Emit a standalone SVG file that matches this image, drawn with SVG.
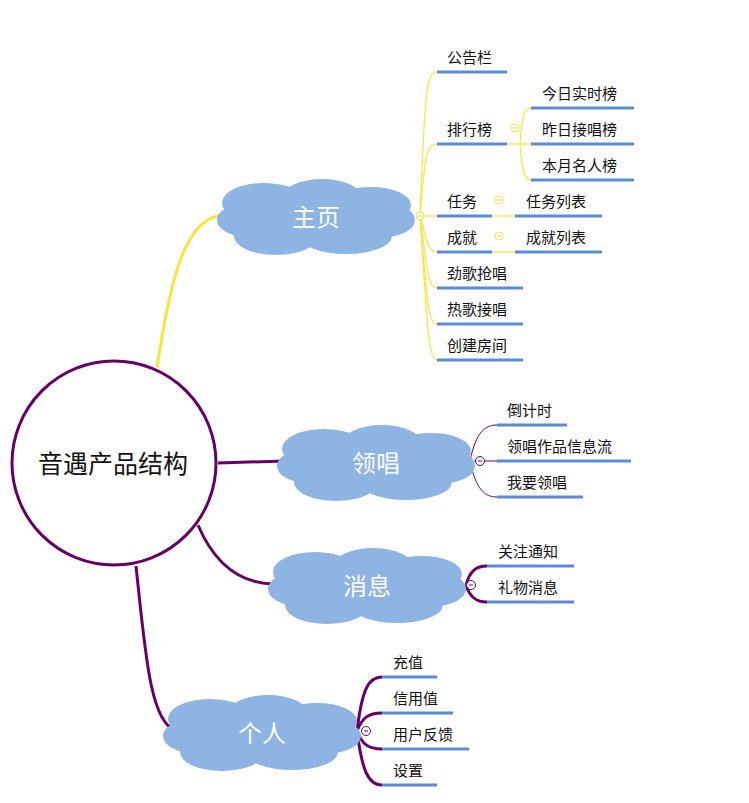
<svg xmlns="http://www.w3.org/2000/svg" width="749" height="803" viewBox="0 0 749 803">
<style>
text{font-family:"Microsoft YaHei","Noto Sans CJK SC",sans-serif;font-size:15px;fill:#111}
.ct{font-size:24px;fill:#fff;text-anchor:middle}
.ul{stroke:#5B8BD6;stroke-width:3;fill:none}
.y{stroke:#FFE23A;fill:none;stroke-width:1.2}
.p{stroke:#660066;fill:none}
.tg{fill:#fff;stroke-width:1}
</style>
<defs>
<g id="cloud" fill="#8EB4E3">
<ellipse cx="-68" cy="3" rx="31" ry="17"/>
<ellipse cx="68" cy="3" rx="31" ry="17"/>
<ellipse cx="-52" cy="-14" rx="42" ry="20"/>
<ellipse cx="6" cy="-19" rx="40" ry="19"/>
<ellipse cx="55" cy="-12" rx="40" ry="18"/>
<ellipse cx="-40" cy="19" rx="42" ry="19"/>
<ellipse cx="30" cy="19" rx="46" ry="18"/>
<ellipse cx="0" cy="0" rx="82" ry="28"/>
</g>
</defs>
<g id="connectors">
<path class="y" d="M157,368 C170,280 185,215 225,215" style="stroke-width:3"/>
<path class="p" d="M218,463 L285,461" stroke-width="3"/>
<path class="p" d="M198,525 C215,565 240,584 275,584" stroke-width="3"/>
<path class="p" d="M136,566 C145,650 150,722 175,730" stroke-width="3"/>
<path class="y" d="M415,216 L420,216"/>
<path class="y" d="M420,216 C425,100 425,72 437,72"/>
<path class="y" d="M420,216 C425,160 425,144 437,144"/>
<path class="y" d="M420,216 L437,216"/>
<path class="y" d="M420,216 C427,240 428,252 437,252"/>
<path class="y" d="M420,216 C427,270 428,288 437,288"/>
<path class="y" d="M420,216 C427,300 428,324 437,324"/>
<path class="y" d="M420,216 C427,320 428,360 437,360"/>
<path class="y" d="M507,144 L531,144"/>
<path class="y" d="M520,144 C522,115 524,108 531,108"/>
<path class="y" d="M520,144 C522,170 524,180 531,180"/>
<path class="y" d="M492,216 L515,216"/>
<path class="y" d="M492,252 L515,252"/>
<path class="p" d="M474,461 L497,461" stroke-width="1"/>
<path class="p" d="M470,461 C476,432 485,425 497,425" stroke-width="1"/>
<path class="p" d="M470,461 C476,490 485,497 497,497" stroke-width="1"/>
<path class="p" d="M466,585 C470,570 477,566 487,566" stroke-width="3"/>
<path class="p" d="M466,585 C470,598 477,602 487,602" stroke-width="3"/>
<path class="p" d="M357,731 C362,690 368,677 382,677" stroke-width="3"/>
<path class="p" d="M357,731 C362,718 368,713 382,713" stroke-width="3"/>
<path class="p" d="M357,731 C362,744 368,749 382,749" stroke-width="3"/>
<path class="p" d="M357,731 C362,770 368,785 382,785" stroke-width="3"/>
</g>
<g id="root">
<circle cx="114" cy="463" r="102" fill="#fff" stroke="#660066" stroke-width="3"/>
<text x="113" y="473" text-anchor="middle" style="font-size:25px">音遇产品结构</text>
</g>
<g id="n-home"><use href="#cloud" x="316" y="217"/><text class="ct" x="316" y="226">主页</text></g>
<g id="n-lead"><use href="#cloud" x="376" y="463"/><text class="ct" x="376" y="472">领唱</text></g>
<g id="n-msg"><use href="#cloud" x="367" y="586"/><text class="ct" x="367" y="595">消息</text></g>
<g id="n-me"><use href="#cloud" x="262" y="733"/><text class="ct" x="262" y="742">个人</text></g>
<g id="toggles">
<circle class="y tg" cx="420" cy="216" r="4"/><path class="y" d="M418,216h4"/>
<circle class="y tg" cx="515" cy="128" r="4"/><path class="y" d="M513,128h4"/>
<circle class="y tg" cx="499" cy="200" r="4"/><path class="y" d="M497,200h4"/>
<circle class="y tg" cx="499" cy="236" r="4"/><path class="y" d="M497,236h4"/>
<circle class="p tg" cx="480" cy="461" r="4.5"/><path class="p" d="M478,461h4"/>
<circle class="p tg" cx="471" cy="585" r="4.5"/><path class="p" d="M469,585h4"/>
<circle class="p tg" cx="366" cy="731" r="4.5"/><path class="p" d="M364,731h4"/>
</g>
<g id="leaves">
<g id="l1"><path class="ul" d="M437,72H507"/><text x="447" y="63">公告栏</text></g>
<g id="l2"><path class="ul" d="M437,144H507"/><text x="447" y="135">排行榜</text></g>
<g id="l3"><path class="ul" d="M531,108H634"/><text x="542" y="99">今日实时榜</text></g>
<g id="l4"><path class="ul" d="M531,144H634"/><text x="542" y="135">昨日接唱榜</text></g>
<g id="l5"><path class="ul" d="M531,180H634"/><text x="542" y="171">本月名人榜</text></g>
<g id="l6"><path class="ul" d="M437,216H492"/><text x="447" y="207">任务</text></g>
<g id="l7"><path class="ul" d="M515,216H602"/><text x="526" y="207">任务列表</text></g>
<g id="l8"><path class="ul" d="M437,252H492"/><text x="447" y="243">成就</text></g>
<g id="l9"><path class="ul" d="M515,252H602"/><text x="526" y="243">成就列表</text></g>
<g id="l10"><path class="ul" d="M437,288H523"/><text x="447" y="279">劲歌抢唱</text></g>
<g id="l11"><path class="ul" d="M437,324H523"/><text x="447" y="315">热歌接唱</text></g>
<g id="l12"><path class="ul" d="M437,360H523"/><text x="447" y="351">创建房间</text></g>
<g id="l13"><path class="ul" d="M497,425H567"/><text x="507" y="416">倒计时</text></g>
<g id="l14"><path class="ul" d="M497,461H631"/><text x="507" y="452">领唱作品信息流</text></g>
<g id="l15"><path class="ul" d="M497,497H583"/><text x="507" y="488">我要领唱</text></g>
<g id="l16"><path class="ul" d="M487,566H574"/><text x="498" y="557">关注通知</text></g>
<g id="l17"><path class="ul" d="M487,602H574"/><text x="498" y="593">礼物消息</text></g>
<g id="l18"><path class="ul" d="M382,677H437"/><text x="393" y="668">充值</text></g>
<g id="l19"><path class="ul" d="M382,713H453"/><text x="393" y="704">信用值</text></g>
<g id="l20"><path class="ul" d="M382,749H469"/><text x="393" y="740">用户反馈</text></g>
<g id="l21"><path class="ul" d="M382,785H437"/><text x="393" y="776">设置</text></g>
</g>
</svg>
